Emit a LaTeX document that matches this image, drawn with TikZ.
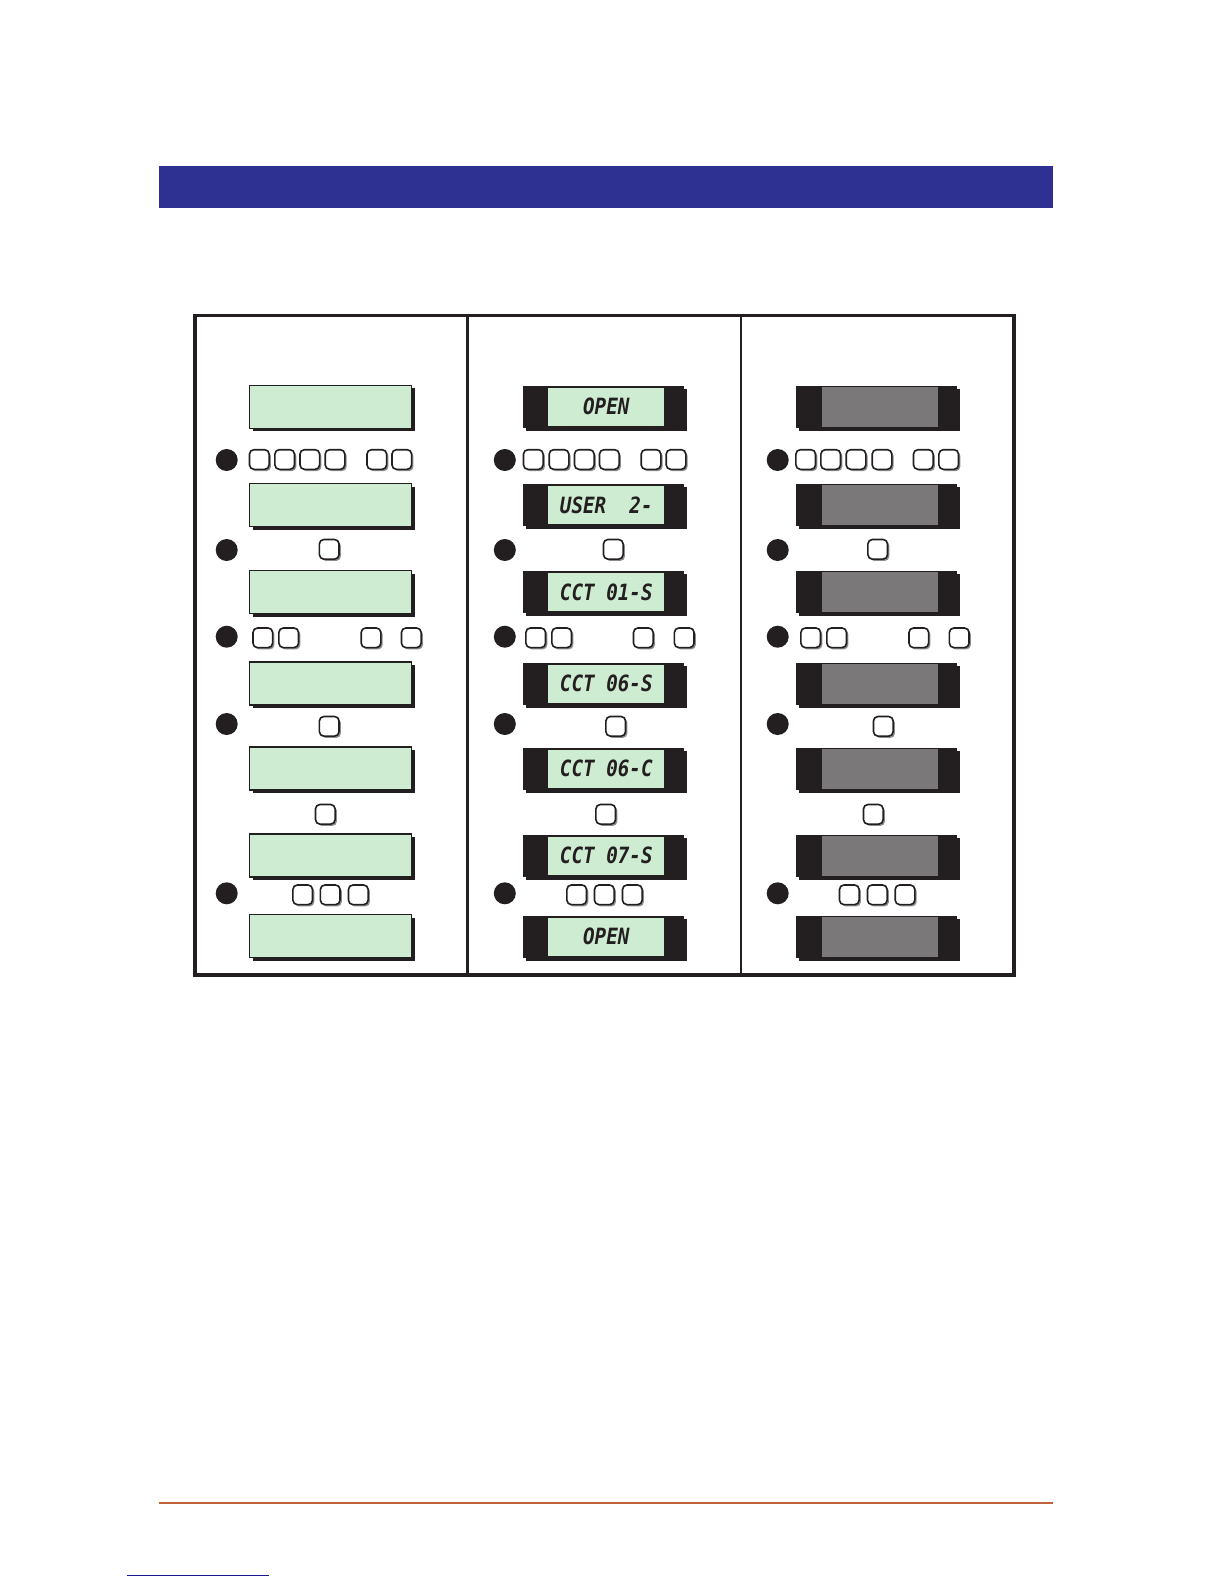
\documentclass[tikz,border=0pt]{standalone}
\usepackage{fontspec}
\usetikzlibrary{shadows}
\newfontfamily\lcdfont{DejaVu Sans Mono}
\definecolor{lcdgreen}{RGB}{206,236,209}
\definecolor{lcdgrey}{RGB}{122,120,121}
\definecolor{inkblack}{RGB}{35,31,32}
\definecolor{barblue}{RGB}{46,49,146}
\definecolor{ruleorange}{RGB}{192,99,58}
\definecolor{linkblue}{RGB}{26,26,140}
\newcommand{\lcdtxt}[1]{\scalebox{0.86}[1]{\lcdfont\bfseries\itshape #1}}
\tikzset{
  lcdg/.style={draw=inkblack, line width=0.8pt, fill=lcdgreen, minimum width=81pt, minimum height=21.5pt, inner sep=0pt,
    drop shadow={shadow xshift=1.5pt, shadow yshift=-1.5pt, fill=inkblack, opacity=1}},
  lcdframe/.style={fill=inkblack, minimum width=80.5pt, minimum height=21pt, inner sep=0pt,
    drop shadow={shadow xshift=1.5pt, shadow yshift=-1.5pt, fill=inkblack, opacity=1}},
  lcdwin/.style={fill=lcdgreen, minimum width=58pt, minimum height=19pt, inner sep=0pt, text=inkblack, font=\fontsize{11.2pt}{12pt}\selectfont},
  lcdoff/.style={fill=lcdgrey, minimum width=58.3pt, minimum height=20pt, inner sep=0pt},
  btn/.style={draw=inkblack, line width=0.8pt, fill=white, rounded corners=2.2pt, minimum size=9.8pt, inner sep=0pt,
    drop shadow={shadow xshift=0.9pt, shadow yshift=-0.9pt, fill=black!45, opacity=1}},
  stepdot/.style={circle, fill=inkblack, minimum size=11pt, inner sep=0pt},
}
\begin{document}
\begin{tikzpicture}[x=0.5pt,y=-0.5pt]
\useasboundingbox (0,0) rectangle (1224,1584);
% header bar and rules
\fill[barblue] (158.5,165.6) rectangle (1053,207.8);
\draw[ruleorange, line width=1pt] (158.5,1502.7) -- (1053,1502.7);
\draw[linkblue, line width=0.7pt] (126.5,1575.3) -- (269,1575.3);
% frame
\draw[inkblack, line width=1.6pt] (195,315.5) rectangle (1014,975);
\draw[inkblack, line width=1.2pt] (467.5,315.5) -- (467.5,975);
\draw[inkblack, line width=1.2pt] (741,315.5) -- (741,975);

% ---------- left column ----------
\foreach \n/\yy in {1/406.8,2/505,3/592,4/683.7,5/768.7,6/855.5,7/936}{
  \node[lcdg] (L\n) at (330.5,\yy) {};
}
% ---------- middle column ----------
\foreach \n/\yy/\tx in {1/406.5/OPEN,2/505/USER\ \ 2-,3/592.3/CCT 01-S,4/683.5/CCT 06-S,5/768.7/CCT 06-C,6/855.5/CCT 07-S,7/936.5/OPEN}{
  \node[lcdframe] (MF\n) at (603.4,\yy) {};
  \node[lcdwin] (M\n) at (606.3,\yy) {\lcdtxt{\tx}};
}
% ---------- right column ----------
\foreach \n/\yy in {1/406.5,2/505,3/592.3,4/683.5,5/768.7,6/855.5,7/936.5}{
  \node[lcdframe] (RF\n) at (876.8,\yy) {};
  \node[lcdoff] (R\n) at (880,\yy) {};
}

% ---------- step dots ----------
\foreach \c/\xx in {L/226.7,M/504.8,R/777.7}{
  \foreach \s/\yy in {1/460,2/550,3/636.7,4/724,6/893.3}{
    \node[stepdot] (\c dot\s) at (\xx,\yy) {};
  }
}

% ---------- buttons ----------
% row 1
\foreach \i/\xx in {1/259.3,2/284.7,3/309.8,4/335,5/376.8,6/401.8}{\node[btn] (Lb1\i) at (\xx,459.5) {};}
\foreach \i/\xx in {1/533.3,2/559,3/584.3,4/609.3,5/651,6/676}{\node[btn] (Mb1\i) at (\xx,459.5) {};}
\foreach \i/\xx in {1/805.7,2/830.7,3/856,4/882,5/923.3,6/948.7}{\node[btn] (Rb1\i) at (\xx,459.5) {};}
% row 2
\node[btn] (Lb21) at (329.2,549.3) {};
\node[btn] (Mb21) at (613.3,549.3) {};
\node[btn] (Rb21) at (877.7,549.3) {};
% row 3
\foreach \i/\xx in {1/262.8,2/288.7,3/371,4/411.3}{\node[btn] (Lb3\i) at (\xx,637.8) {};}
\foreach \i/\xx in {1/535.7,2/561.7,3/643.3,4/684.2}{\node[btn] (Mb3\i) at (\xx,637.8) {};}
\foreach \i/\xx in {1/810.7,2/836.7,3/918.8,4/959.2}{\node[btn] (Rb3\i) at (\xx,637.8) {};}
% row 4
\node[btn] (Lb41) at (329.2,726.3) {};
\node[btn] (Mb41) at (615.7,726.3) {};
\node[btn] (Rb41) at (883.3,726.3) {};
% row 5
\node[btn] (Lb51) at (325.3,814.3) {};
\node[btn] (Mb51) at (605.7,814.3) {};
\node[btn] (Rb51) at (873.3,814.3) {};
% row 6
\foreach \i/\xx in {1/302.7,2/330.2,3/358.3}{\node[btn] (Lb6\i) at (\xx,894.8) {};}
\foreach \i/\xx in {1/576.7,2/604.3,3/632.3}{\node[btn] (Mb6\i) at (\xx,894.8) {};}
\foreach \i/\xx in {1/849.3,2/877.3,3/905}{\node[btn] (Rb6\i) at (\xx,894.8) {};}
\end{tikzpicture}
\end{document}
